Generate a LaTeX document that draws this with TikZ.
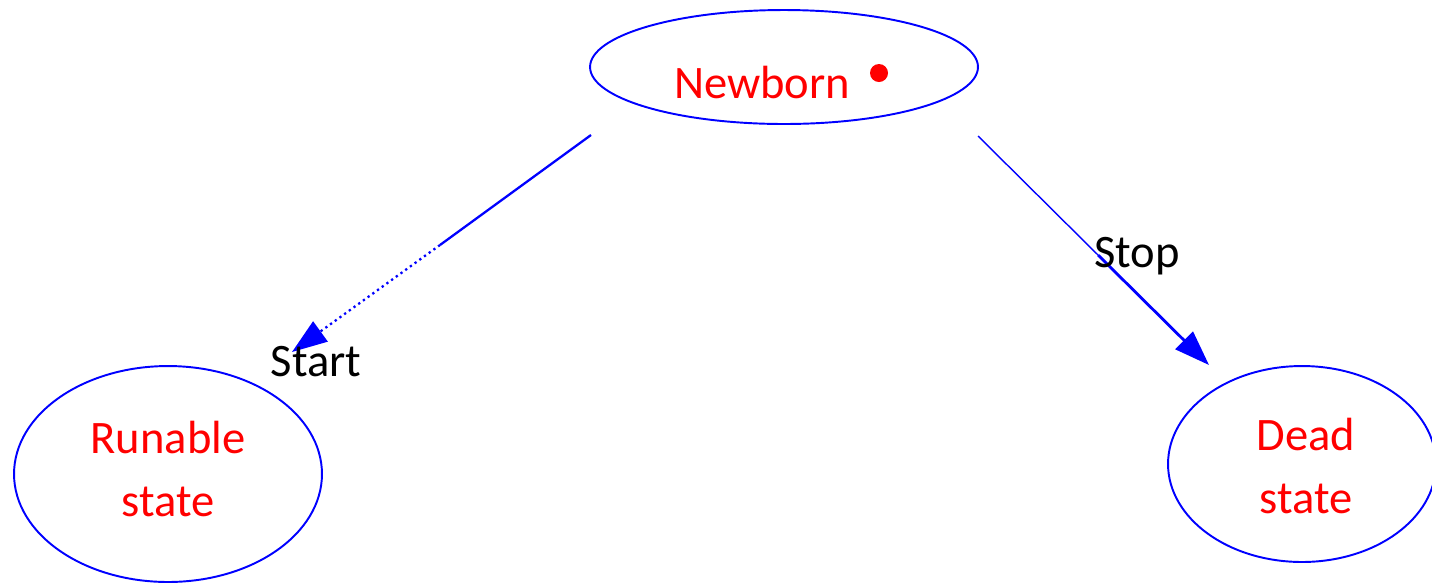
\documentclass[tikz,border=0pt]{standalone}
\usepackage{fontspec}
\setmainfont{Carlito}
\usetikzlibrary{shapes.geometric,arrows.meta}
\definecolor{lnblue}{RGB}{0,0,255}
\definecolor{txred}{RGB}{255,0,0}
\tikzset{
  stateshape/.style={ellipse, draw=lnblue, line width=1.1pt, inner sep=0pt},
  statetext/.style={text=txred, font=\fontsize{26.5}{35.8}\selectfont, align=center, inner sep=0pt},
  edgelabel/.style={text=black, font=\fontsize{26.5}{32}\selectfont, inner sep=0pt},
  tipstyle/.style={-{Triangle[length=20pt,width=14pt]}}
}
\begin{document}
\begin{tikzpicture}[x=0.02cm,y=-0.02cm]
\useasboundingbox (0,0) rectangle (1432,583);
% states
\node[stateshape, minimum width=7.76cm, minimum height=2.28cm] (newborn) at (784,67) {};
\node[stateshape, minimum width=6.16cm, minimum height=4.32cm] (runable) at (168,474) {};
\node[stateshape, minimum width=5.36cm, minimum height=3.92cm] (dead) at (1302,464) {};
\node[statetext] (newbornt) at (762,82) {Newborn};
\node[statetext] (runablet) at (168,469) {Runable\\state};
\node[statetext] (deadt) at (1306,466) {Dead\\state};
\fill[txred] (879,73) circle (0.18cm) coordinate (dot);
% connectors
\coordinate (s1) at (591,135);
\coordinate (s1m) at (440,245);
\coordinate (s1e) at (292,352);
\draw[lnblue, line width=1.3pt] (s1) -- (s1m);
\draw[lnblue, line width=1.3pt, dotted, tipstyle] (s1m) -- (s1e);
\coordinate (s2) at (978,136);
\coordinate (s2m) at (1098,255);
\coordinate (s2e) at (1209,365);
\draw[lnblue, line width=0.8pt] (s2) -- (s2m);
\draw[lnblue, line width=1.6pt, tipstyle] (s2m) -- (s2e);
% labels
\node[edgelabel] (start) at (316,362) {Start};
\node[edgelabel] (stop) at (1137,256) {Stop};
\end{tikzpicture}
\end{document}
